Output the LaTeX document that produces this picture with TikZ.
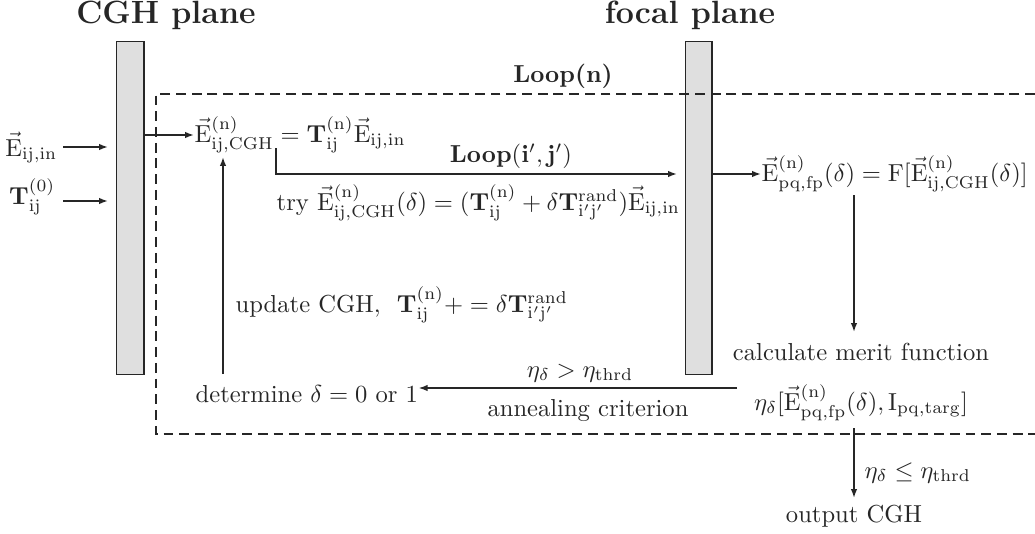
\documentclass[tikz,border=0pt]{standalone}
\usepackage{amsmath}
\usetikzlibrary{arrows.meta}
\begin{document}
\begin{tikzpicture}[x=0.407pt,y=-0.407pt, line width=0.6pt,
  color=black!85,
  >={Latex[length=3.6pt,width=2.6pt]},
  txt/.style={inner sep=0pt, anchor=base west},
  ctxt/.style={inner sep=0pt, anchor=base},
  bar/.style={draw, fill=gray!25, inner sep=0pt, anchor=north west},
  ttl/.style={inner sep=0pt, anchor=base, font=\fontsize{13.1}{15}\selectfont\bfseries},
  loopbox/.style={dashed, dash pattern=on 4pt off 2.4pt, line width=0.5pt}]
\useasboundingbox (0,0) rectangle (1035,533);
% titles
\node[ttl] (t1) at (166,23.5) {CGH plane};
\node[ttl] (t2) at (690,23.5) {focal plane};
% planes
\node[bar, minimum width=11pt, minimum height=135.5pt] (cgh) at (116,41) {};
\node[bar, minimum width=10.6pt, minimum height=135.5pt] (fp) at (685,41) {};
% loop box
\draw[loopbox] (1035,94) -- (156,94) -- (156,434) -- (1035,434);
\node[ctxt, font=\bfseries] (loopn) at (563,82) {Loop(n)};
% inputs
\node[inner sep=0pt, anchor=base east] (ein) at (58,156) {$\vec{\mathrm{E}}_{\mathrm{ij,in}}$};
\node[inner sep=0pt, anchor=base east] (tin) at (56,204) {$\mathbf{T}_{\mathrm{ij}}^{(0)}$};
\draw[->] (ein.east |- 0,147) ++(5,0) -- (108,147) coordinate (einend);
\draw[->] (tin.east |- 0,201) ++(7,0) -- (108,201) coordinate (tinend);
% CGH field
\node[txt] (eq1) at (194,142) {$\vec{\mathrm{E}}_{\mathrm{ij,CGH}}^{(\mathrm{n})} = \mathbf{T}_{\mathrm{ij}}^{(\mathrm{n})}\vec{\mathrm{E}}_{\mathrm{ij,in}}$};
\draw[->] (cgh.east |- 0,135) -- (eq1.west |- 0,135);
% inner loop
\coordinate (ls) at (276,148);
\draw[->] (ls) |- (677,174) coordinate (le);
\node[ctxt, font=\bfseries] (loopij) at (511,162) {Loop$(\mathbf{i'},\mathbf{j'})$};
\node[txt] (try) at (276,210) {try $\vec{\mathrm{E}}_{\mathrm{ij,CGH}}^{(\mathrm{n})}(\delta) = (\mathbf{T}_{\mathrm{ij}}^{(\mathrm{n})}+\delta\mathbf{T}_{\mathrm{i'j'}}^{\mathrm{rand}})\vec{\mathrm{E}}_{\mathrm{ij,in}}$};
% focal field
\node[txt] (efp) at (761,181) {$\vec{\mathrm{E}}_{\mathrm{pq,fp}}^{(\mathrm{n})}(\delta) = \mathrm{F}[\vec{\mathrm{E}}_{\mathrm{ij,CGH}}^{(\mathrm{n})}(\delta)]$};
\draw[->] (fp.east |- 0,174) -- (efp.west |- 0,174);
% merit
\node[ctxt] (calc) at (861,360) {calculate merit function};
\node[ctxt] (merit) at (861,410) {$\eta_\delta[\vec{\mathrm{E}}_{\mathrm{pq,fp}}^{(\mathrm{n})}(\delta), \mathrm{I}_{\mathrm{pq,targ}}]$};
\draw[->] (854,195) -- (854,332) coordinate (calctop);
% annealing
\node[txt] (det) at (195,402) {determine $\delta = 0$ or $1$};
\draw[->] (737,388) -- (det.east |- 0,388);
\node[ctxt] (gt) at (580,377) {$\eta_\delta > \eta_{\mathrm{thrd}}$};
\node[ctxt] (ann) at (588,416) {annealing criterion};
% update
\draw[->] (223,374) -- (223,157);
\node[txt] (upd) at (235,312) {update CGH,\ \ $\mathbf{T}_{\mathrm{ij}}^{(\mathrm{n})}+=\delta\mathbf{T}_{\mathrm{i'j'}}^{\mathrm{rand}}$};
% output
\node[ctxt] (out) at (854,522) {output CGH};
\draw[->] (854,428) -- (854,498);
\node[txt] (le2) at (864,478) {$\eta_\delta \le \eta_{\mathrm{thrd}}$};
\end{tikzpicture}
\end{document}
